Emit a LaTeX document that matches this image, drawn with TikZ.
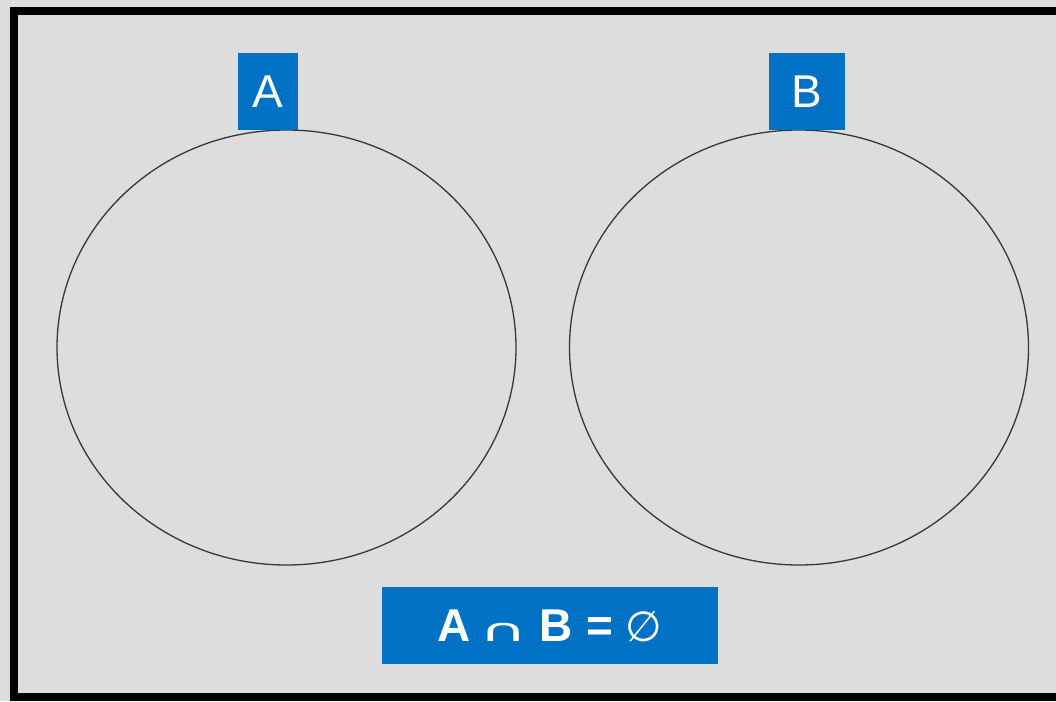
\documentclass[tikz,border=0pt]{standalone}
\usepackage{fontspec}
\setmainfont{Liberation Sans}
\newfontfamily\symfont{DejaVu Sans}
\usetikzlibrary{shapes.geometric}
\definecolor{setblue}{RGB}{0,114,198}
\definecolor{panelgray}{RGB}{221,221,221}
\definecolor{ringgray}{RGB}{55,55,55}
\begin{document}
\begin{tikzpicture}[x=1pt,y=-1pt,
  setlabel/.style={fill=setblue, text=white, inner sep=0pt,
    font=\fontsize{46}{46}\selectfont},
  setring/.style={ellipse, draw=ringgray, line width=1.3pt, inner sep=0pt,
    minimum width=459pt, minimum height=435pt}]
\useasboundingbox (0,0) rectangle (1056,701);
% panel background and frame
\fill[panelgray] (0,0) rectangle (1056,701);
\draw[line width=8pt] (14,11) rectangle (1075,697);
% the two disjoint sets
\node[setring] (ringA) at (286.5,347.5) {};
\node[setring] (ringB) at (799,347.5) {};
% set labels
\node[setlabel, minimum width=60pt, minimum height=77pt] (labA) at (268,91.5) {A};
\node[setlabel, minimum width=76pt, minimum height=77pt] (labB) at (807,91.5) {B};
% statement of disjointness
\node[setlabel, minimum width=336pt, minimum height=77pt] (result) at (550,625.5)
  {\bfseries A\hspace{8pt}\scalebox{2.2}[1.05]{\symfont\mdseries\fontsize{30}{30}\selectfont ∩}\hspace{12pt}B\hspace{14pt}=\hspace{12pt}{\symfont\mdseries\fontsize{42}{42}\selectfont ∅}};
\end{tikzpicture}
\end{document}
